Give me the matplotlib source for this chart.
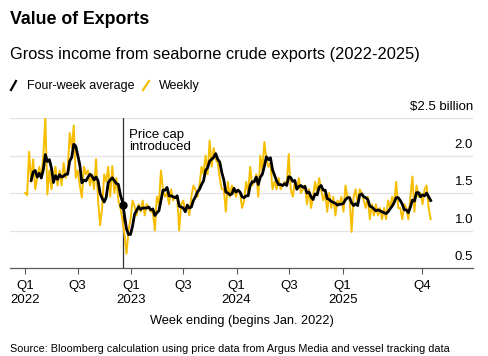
import matplotlib
matplotlib.use("Agg")
import matplotlib.pyplot as plt
import matplotlib.dates as mdates
from matplotlib.lines import Line2D
import numpy as np
import pandas as pd

plt.rcParams['font.family'] = ['Liberation Sans', 'DejaVu Sans']

# weekly gross income, $ billion (weeks from Jan. 2022)
weekly_values = [
    1.50, 1.47, 2.05, 1.65, 1.95, 1.55, 1.70, 1.85, 1.70, 2.00,
    2.50, 1.48, 1.80, 1.55, 1.73, 1.85, 1.60, 1.80, 1.60, 1.90,
    1.70, 1.80, 2.30, 2.10, 2.40, 1.70, 1.80, 1.60, 1.44, 1.85,
    1.75, 1.80, 1.60, 1.75, 1.55, 1.95, 1.40, 1.07, 1.30, 1.75,
    1.65, 1.85, 1.45, 1.86, 1.50, 1.70, 1.40, 1.30, 1.15, 0.95,
    0.69, 1.00, 1.15, 1.40, 1.32, 1.20, 1.35, 1.25, 1.40, 1.20,
    1.35, 1.30, 1.25, 1.25, 1.00, 1.45, 1.35, 1.80, 1.55, 1.45,
    1.50, 1.35, 1.55, 1.40, 1.45, 1.45, 1.00, 1.35, 1.40, 1.25,
    1.35, 1.20, 1.45, 1.60, 1.55, 1.45, 1.60, 1.85, 1.75, 2.00,
    1.75, 2.20, 1.85, 2.10, 1.95, 1.90, 1.70, 1.55, 1.55, 1.25,
    1.65, 1.45, 1.60, 1.55, 1.45, 1.55, 1.50, 1.30, 1.40, 1.65,
    1.50, 1.85, 1.60, 1.65, 1.75, 1.45, 2.00, 1.80, 2.18, 1.95,
    1.85, 1.90, 1.55, 1.65, 1.55, 1.70, 1.55, 1.60, 1.65, 1.60,
    2.02, 1.55, 1.45, 1.65, 1.55, 1.70, 1.50, 1.55, 1.60, 1.35,
    1.55, 1.30, 1.45, 1.65, 1.50, 1.70, 1.55, 1.40, 1.50, 1.25,
    1.50, 1.30, 1.45, 1.20, 1.40, 1.35, 1.45, 1.25, 1.60, 1.45,
    1.45, 0.98, 1.45, 1.55, 1.35, 1.55, 1.50, 1.40, 1.30, 1.45,
    1.15, 1.35, 1.20, 1.35, 1.20, 1.30, 1.15, 1.30, 1.15, 1.40,
    1.30, 1.45, 1.35, 1.65, 1.30, 1.30, 1.15, 1.35, 1.30, 1.15,
    1.45, 1.72, 1.25, 1.60, 1.45, 1.50, 1.35, 1.55, 1.60, 1.30,
    1.15,
]
start_date = "2022-01-01"
price_cap_date = "2022-12-05"

tick_dates = ["2022-01-01", "2022-07-01", "2023-01-01", "2023-07-01",
              "2024-01-01", "2024-07-01", "2025-01-01", "2025-10-01"]
tick_labels = ["Q1\n2022", "Q3", "Q1\n2023", "Q3", "Q1\n2024", "Q3",
               "Q1\n2025", "Q4"]
y_ticks = [0.5, 1.0, 1.5, 2.0, 2.5]
y_labels = ["0.5", "1.0", "1.5", "2.0", "\\$2.5 billion"]

YELLOW = "#f7bd00"
GRID = "#e3e3e3"
AXIS = "#5a5a5a"

df = pd.DataFrame({"Weekly": weekly_values},
                  index=pd.date_range(start_date, periods=len(weekly_values), freq="7D"))
df["Average"] = df["Weekly"].rolling(4).mean()

fig = plt.figure(figsize=(4.88, 3.56), dpi=100)
ax = fig.add_axes([0.0205, 0.2472, 0.9487, 0.4213])

ax.plot(df.index, df["Weekly"], color=YELLOW, lw=1.4, zorder=3)
ax.plot(df.index, df["Average"], color="black", lw=2.0, zorder=4)

# price cap marker
cap = pd.Timestamp(price_cap_date)
avg = df["Average"].dropna()
cap_val = np.interp(mdates.date2num(cap), mdates.date2num(avg.index), avg.values)
ax.axvline(cap, color="#333333", lw=0.9, zorder=2)
ax.plot([cap], [cap_val], "o", color="black", ms=5, zorder=5)
ax.text(cap + pd.Timedelta(days=20), 2.36, "Price cap\nintroduced", fontsize=9.5,
        va="top", ha="left", linespacing=1.05)

ax.set_ylim(0.5, 2.5)
ax.set_xlim(pd.Timestamp("2021-11-10"), pd.Timestamp("2026-03-27"))
for v, lab in zip(y_ticks, y_labels):
    if v > 0.5:
        ax.axhline(v, color=GRID, lw=0.9, zorder=1)
    ax.annotate(lab, xy=(1.0, v), xycoords=ax.get_yaxis_transform(),
                xytext=(0, 3.5), textcoords="offset points",
                ha="right", va="bottom", fontsize=9.5)

ax.set_yticks([])
ax.set_xticks(pd.to_datetime(tick_dates))
ax.set_xticklabels(tick_labels, fontsize=9.5, linespacing=1.2)
ax.tick_params(axis="x", length=4, width=0.8, color=AXIS, pad=5)
for side in ["top", "right", "left"]:
    ax.spines[side].set_visible(False)
ax.spines["bottom"].set_color(AXIS)
ax.spines["bottom"].set_linewidth(0.9)
ax.set_xlabel("Week ending (begins Jan. 2022)", fontsize=9.2, labelpad=6)

# titles and legend
fig.text(0.0205, 0.945, "Value of Exports", fontsize=12.8, fontweight="bold",
         va="center", ha="left")
fig.text(0.0205, 0.848, "Gross income from seaborne crude exports (2022-2025)",
         fontsize=11.8, va="center", ha="left")
fig.add_artist(Line2D([11 / 488, 16 / 488], [1 - 90 / 356, 1 - 81 / 356],
                      color="black", lw=1.6))
fig.text(27 / 488, 1 - 86 / 356, "Four-week average", fontsize=9, va="center")
fig.add_artist(Line2D([143 / 488, 149 / 488], [1 - 90 / 356, 1 - 81 / 356],
                      color=YELLOW, lw=1.6))
fig.text(159 / 488, 1 - 86 / 356, "Weekly", fontsize=9, va="center")
fig.text(0.0205, 1 - 349 / 356,
         "Source: Bloomberg calculation using price data from Argus Media and vessel tracking data",
         fontsize=7.8, va="center", ha="left")

plt.savefig("out.png", dpi=100)
plt.close()
